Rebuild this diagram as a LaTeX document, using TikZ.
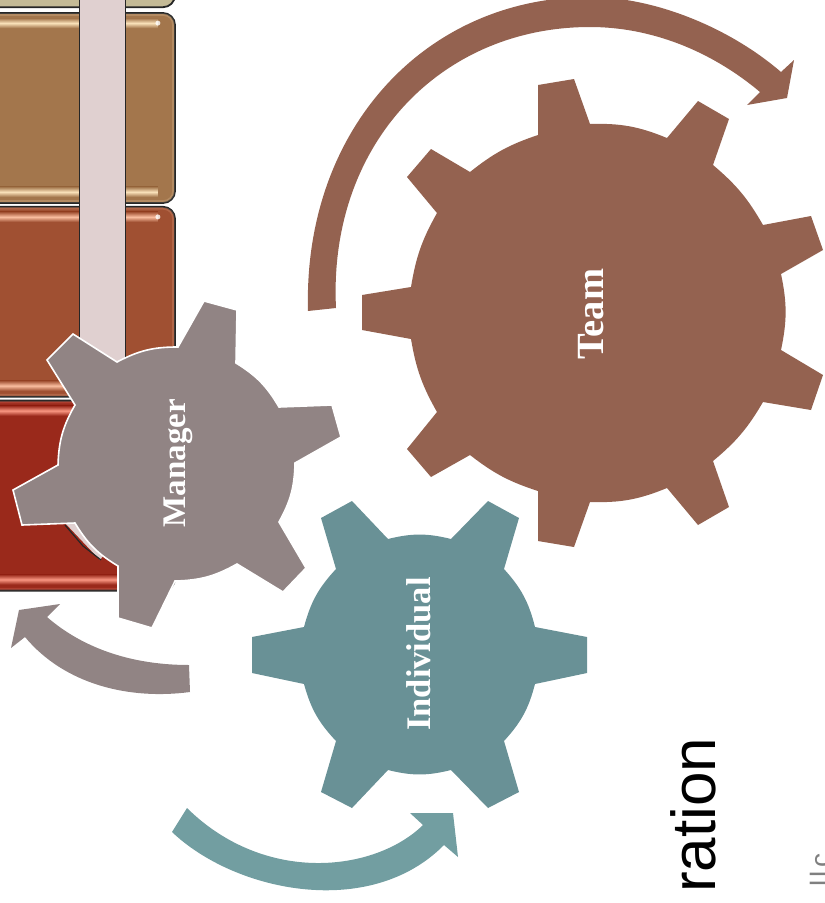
\documentclass[tikz,border=0pt]{standalone}
\usepackage{fontspec}
\setmainfont{Liberation Serif}
\setsansfont{Liberation Sans}
\usepackage{xcolor}
\usepackage{tikz}
\usetikzlibrary{calc, positioning}
\definecolor{tanbar}{RGB}{163,118,76}
\definecolor{rustbar}{RGB}{160,80,50}
\definecolor{redbar}{RGB}{154,41,27}
\definecolor{sandbar}{RGB}{196,186,150}
\definecolor{tanshine}{RGB}{250,226,186}
\definecolor{rustshine}{RGB}{250,190,160}
\definecolor{redshine}{RGB}{250,150,130}
\definecolor{stripfill}{RGB}{224,208,208}
\definecolor{teamcol}{RGB}{148,98,80}
\definecolor{indivcol}{RGB}{105,145,150}
\definecolor{indivarrow}{RGB}{114,158,161}
\definecolor{managercol}{RGB}{145,132,132}
\tikzset{
    barbox/.style={rectangle, rounded corners=12pt, draw=black!85, line width=1.8pt,
        minimum width=350pt, minimum height=190pt, inner sep=0pt},
    stripbox/.style={rectangle, fill=stripfill, draw=black!85, line width=1.8pt,
        minimum width=46pt, minimum height=400pt, inner sep=0pt},
    arc/.style={bend left=#1},
    arc/.default=12,
    teamgear/.style={fill=teamcol},
    indivgear/.style={fill=indivcol},
    managergear/.style={fill=managercol, draw=white, line width=1.6pt, line join=miter},
    gearlabel/.style={rotate=90, text=white, inner sep=0pt, font=\bfseries},
}

\begin{document}
\begin{tikzpicture}[x=1pt, y=-1pt]
    \useasboundingbox (0,0) rectangle (825,903);
    \clip (0,0) rectangle (825,903);
    \node[barbox, fill=tanbar] (tan) at (0,108) {};
    \node[barbox, fill=sandbar, above=4pt of tan] (sand) {};
    \node[barbox, fill=rustbar, below=2pt of tan] (rust) {};
    \node[barbox, fill=redbar, below=2pt of rust] (red) {};
    \foreach \bar/\shine in {tan/tanshine, rust/rustshine, red/redshine} {
        \draw[\shine, opacity=.2, line width=2.5pt, rounded corners=10pt]
            ([shift={(2.5pt,-2.5pt)}]\bar.north west) rectangle ([shift={(-2.5pt,2.5pt)}]\bar.south east);
        \shade[top color=\bar bar, bottom color=\bar bar, middle color=\shine]
            ([yshift=-6pt]\bar.north west) rectangle ([shift={(-18pt,-16pt)}]\bar.north east);
        \shade[top color=\bar bar, bottom color=\bar bar, middle color=\shine]
            ([yshift=7pt]\bar.south west) rectangle ([shift={(-18pt,17pt)}]\bar.south east);
        \fill[white, opacity=.8] ([shift={(-18pt,-11pt)}]\bar.north east) circle (2.5pt);
    }
    \node[stripbox] (strip) at (102.5,170) {};
    \fill[stripfill] (66,524) -- (74,522) -- (103,556) -- (100,560) -- cycle;
    \draw[black!85, line width=1.2pt] (65,525) -- (83,546) -- (101,560);

    \path[teamgear] (538,135) -- (538,85) -- (574,79) -- (590,124) to[arc] (667,138)
        -- (698,101) -- (729,119) -- (713,165) to[arc=10] (763,225)
        -- (811,216) -- (823,250) -- (781,274) to[arc] (781,350)
        -- (823,375) -- (811,410) -- (763,402) to[arc=10] (713,461)
        -- (729,507) -- (698,525) -- (667,488) to[arc] (590,502)
        -- (574,547) -- (538,541) -- (538,491) to[arc=10] (470,455)
        -- (431,477) -- (407,449) -- (437,412) to[arc=10] (411,339)
        -- (362,330) -- (362,295) -- (411,287) to[arc=10] (437,213)
        -- (407,177) -- (431,149) -- (470,172) to[arc=10] cycle;
    \path[indivgear] (535,627) -- (587,637) -- (587,673) -- (535,684) to[arc=14] (504,741)
        -- (519,792) -- (488,808) -- (451,770) to[arc=14] (388,770)
        -- (352,808) -- (321,792) -- (336,741) to[arc=14] (304,684)
        -- (252,673) -- (252,637) -- (304,627) to[arc=14] (336,569)
        -- (321,518) -- (352,501) -- (388,539) to[arc=14] (451,539)
        -- (488,501) -- (519,518) -- (504,569) to[arc=14] cycle;
    \path[managergear] (178,347) -- (204,301) -- (237,310) -- (236,363) to[arc=14] (279,407)
        -- (332,405) -- (341,437) -- (295,463) to[arc=14] (279,522)
        -- (306,568) -- (283,592) -- (237,564) to[arc=14] (175,581)
        -- (152,628) -- (118,618) -- (118,566) to[arc=14] (75,523)
        -- (22,525) -- (13,490) -- (58,465) to[arc=14] (75,405)
        -- (47,360) -- (73,334) -- (117,362) to[arc=14] cycle;

    \fill[teamcol] (308,311) .. controls (303,130) and (425,-3) .. (590,-3)
        .. controls (655,-3) and (730,28) .. (781,72)
        -- (794,60) -- (787,98) -- (747,105) -- (760,92)
        .. controls (710,50) and (650,27) .. (590,27)
        .. controls (440,27) and (328,145) .. (336,308) -- cycle;
    \fill[managercol] (190,692) .. controls (130,700) and (65,685) .. (25,637)
        -- (11,648) -- (19,610) -- (60,604) -- (47,617)
        .. controls (85,650) and (135,665) .. (189,665) -- cycle;
    \fill[indivarrow] (172,832) .. controls (235,892) and (370,920) .. (444,845)
        -- (458,857) -- (453,813) -- (410,813) -- (423,825)
        .. controls (375,872) and (265,885) .. (187,808) -- cycle;

    \node[gearlabel, font=\bfseries\fontsize{38.5}{38.5}\selectfont] (team) at (591,314) {Team};
    \node[gearlabel, font=\bfseries\fontsize{34.5}{34.5}\selectfont] (individual) at (419,654) {Individual};
    \node[gearlabel, font=\bfseries\fontsize{33}{33}\selectfont] (manager) at (178,463) {Manager};
    \node[rotate=90, anchor=base west, inner sep=0pt, font=\sffamily\fontsize{62}{62}\selectfont] (title) at (715,893) {ration};
    \node[rotate=90, anchor=base west, inner sep=0pt, text=black!50, font=\sffamily\fontsize{28}{28}\selectfont\addfontfeatures{LetterSpace=12}] (credit) at (830,887) {llc};
\end{tikzpicture}
\end{document}
